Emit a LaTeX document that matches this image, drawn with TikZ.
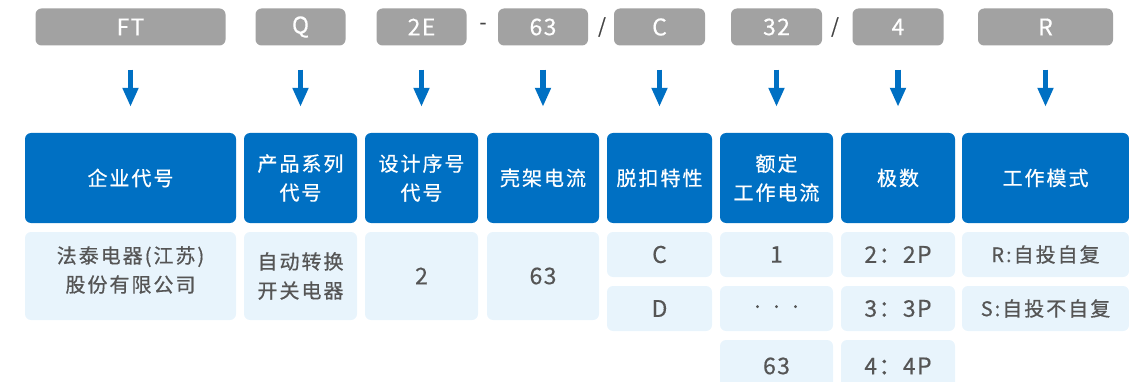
\documentclass[tikz,border=0pt]{standalone}
\usepackage{fontspec}
\setmainfont{Noto Sans CJK SC}
\newfontfamily\cjkls[LetterSpace=10,FakeBold=0.6]{Noto Sans CJK SC}
\newfontfamily\latn[LetterSpace=6,FakeBold=0.4]{Noto Sans CJK SC}
\usetikzlibrary{arrows.meta}
\definecolor{gbox}{HTML}{A2A2A2}
\definecolor{hblue}{HTML}{0070C3}
\definecolor{lcell}{HTML}{E8F4FC}
\definecolor{tgrey}{HTML}{555555}
\definecolor{sepgrey}{HTML}{444444}
\tikzset{
  gb/.style={fill=gbox, draw=none, rounded corners=6pt, text=white, inner sep=0pt,
    minimum height=37pt, font=\latn\fontsize{23}{25}\selectfont},
  hb/.style={fill=hblue, draw=none, rounded corners=6pt, text=white, inner sep=0pt,
    minimum height=90pt, align=center, font=\cjkls\fontsize{20}{29}\selectfont},
  lc/.style={fill=lcell, draw=none, rounded corners=6pt, text=tgrey, inner sep=0pt,
    align=center, font=\cjkls\fontsize{20}{29}\selectfont},
  ln/.style={font=\latn\fontsize{23}{25}\selectfont},
  sep/.style={text=sepgrey, inner sep=0pt, font=\latn\fontsize{20}{22}\selectfont},
  arr/.style={draw=hblue, line width=5.5pt, -{Triangle[width=15pt,length=19pt]}},
}
\begin{document}
\begin{tikzpicture}[x=1pt,y=-1pt]
\useasboundingbox (0,0) rectangle (1129,382);
\clip (0,0) rectangle (1129,382);
% top grey code boxes
\node[gb, minimum width=190pt] (g1) at (130.5,27) {FT};
\node[gb, minimum width=90pt]  (g2) at (300.5,27) {Q};
\node[gb, minimum width=90pt]  (g3) at (421.5,27) {2E};
\node[gb, minimum width=90pt]  (g4) at (543,27) {63};
\node[gb, minimum width=91pt]  (g5) at (659.5,27) {C};
\node[gb, minimum width=91pt]  (g6) at (776.5,27) {32};
\node[gb, minimum width=91pt]  (g7) at (898,27) {4};
\node[gb, minimum width=135pt] (g8) at (1045.5,27) {R};
\node[sep] (s1) at (483,26) {-};
\node[sep] (s2) at (602,27) {/};
\node[sep] (s3) at (835,27) {/};
% headers
\node[hb, minimum width=211pt] (h1) at (130.5,178) {企业代号};
\node[hb, minimum width=113pt] (h2) at (300.5,178) {产品系列\\代号};
\node[hb, minimum width=113pt] (h3) at (421.5,178) {设计序号\\代号};
\node[hb, minimum width=112pt] (h4) at (543,178) {壳架电流};
\node[hb, minimum width=105pt] (h5) at (659.5,178) {脱扣特性};
\node[hb, minimum width=113pt] (h6) at (776.5,178) {额定\\工作电流};
\node[hb, minimum width=114pt] (h7) at (898,178) {极数};
\node[hb, minimum width=167pt] (h8) at (1045.5,178) {工作模式};
% arrows
\foreach \i in {1,...,8}{
  \draw[arr] ([yshift=-24pt]g\i.south) -- ([yshift=26pt]h\i.north);
}
% value cells
\node[lc, minimum width=211pt, minimum height=88pt] (b1) at (130.5,276) {};
\node[lc, align=center] (t1) at (130.5,270) {法泰电器(江苏)\\股份有限公司};
\node[lc, minimum width=113pt, minimum height=88pt] (b2) at (300.5,276) {自动转换\\开关电器};
\node[lc, ln, minimum width=113pt, minimum height=88pt] (b3) at (421.5,276) {2};
\node[lc, ln, minimum width=112pt, minimum height=88pt] (b4) at (543,276) {63};
\node[lc, ln, minimum width=105pt, minimum height=45pt] (b5a) at (659.5,254.5) {C};
\node[lc, ln, minimum width=105pt, minimum height=45pt] (b5b) at (659.5,308.5) {D};
\node[lc, ln, minimum width=113pt, minimum height=45pt] (b6a) at (776.5,254.5) {1};
\node[lc, ln, font=\latn\fontsize{14}{15}\selectfont, minimum width=113pt, minimum height=45pt] (b6b) at (776.5,308.5) {·\hspace{5pt}·\hspace{5pt}·};
\node[lc, ln, minimum width=113pt, minimum height=52pt] (b6c) at (776.5,366) {63};
\node[lc, ln, minimum width=114pt, minimum height=45pt] (b7a) at (898,254.5) {2：2P};
\node[lc, ln, minimum width=114pt, minimum height=45pt] (b7b) at (898,308.5) {3：3P};
\node[lc, ln, minimum width=114pt, minimum height=52pt] (b7c) at (898,366) {4：4P};
\node[lc, minimum width=167pt, minimum height=45pt] (b8a) at (1045.5,254.5) {R:自投自复};
\node[lc, minimum width=167pt, minimum height=45pt] (b8b) at (1045.5,308.5) {S:自投不自复};
\end{tikzpicture}
\end{document}
